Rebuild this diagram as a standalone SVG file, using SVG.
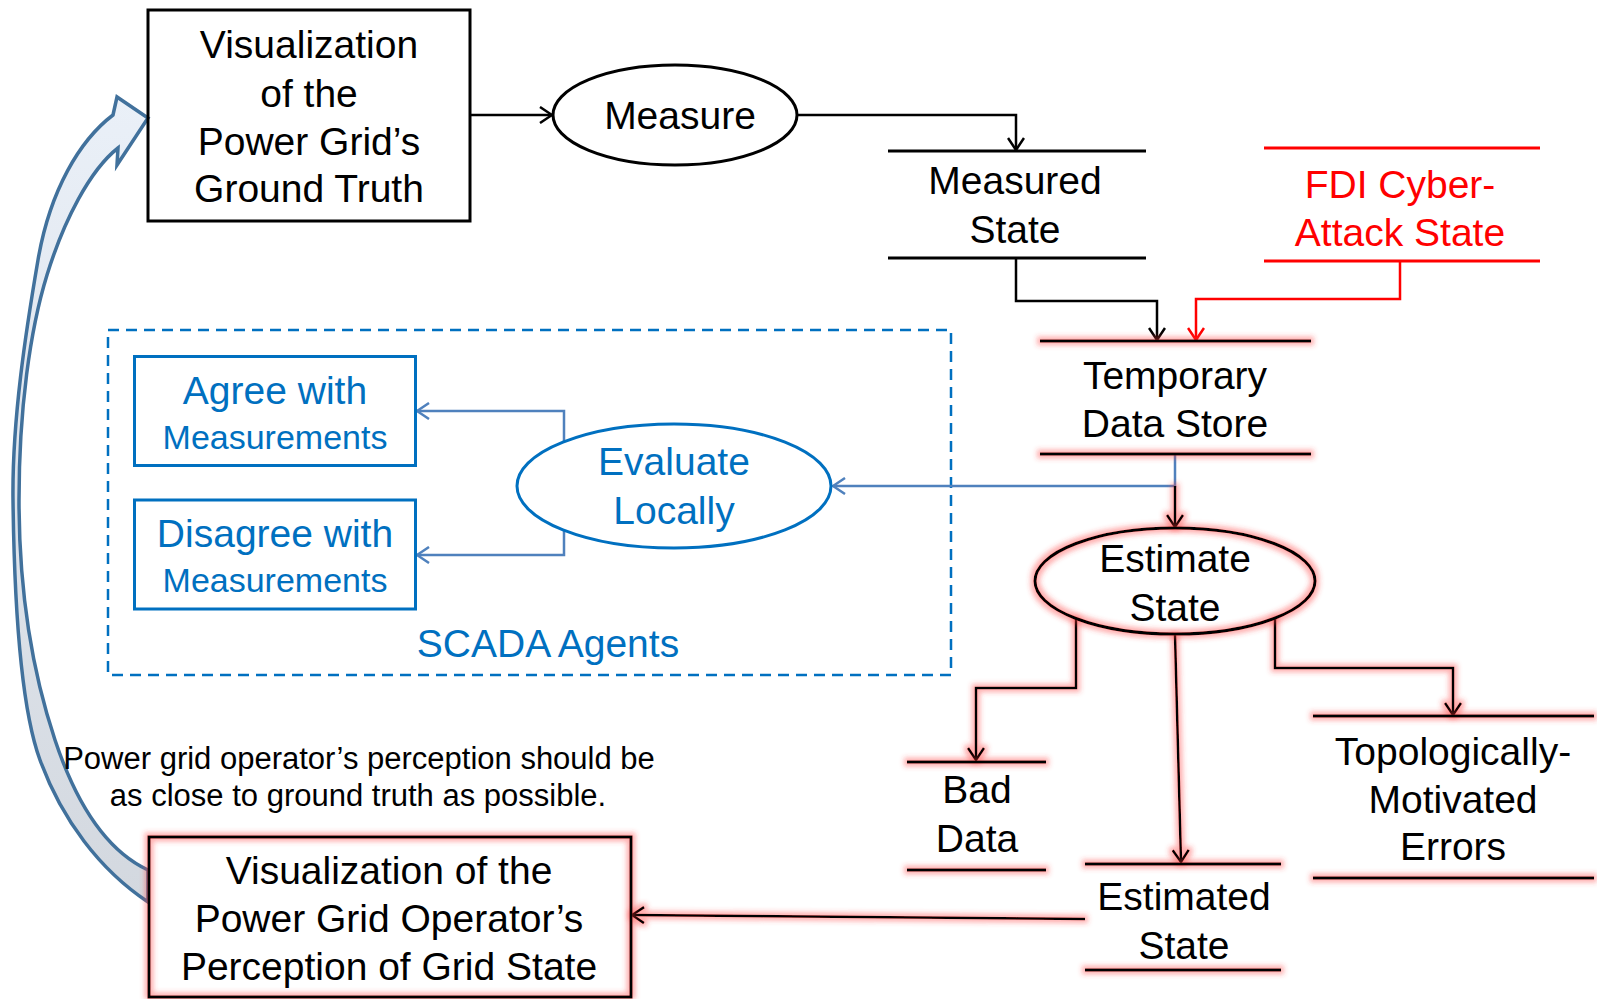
<svg xmlns="http://www.w3.org/2000/svg" width="1597" height="999" viewBox="0 0 1597 999">
  <defs>
    <style>
      text { font-family: "Liberation Sans", Arial, sans-serif; text-anchor: middle; }
      .t { font-size: 39px; fill: #000; }
      .note { font-size: 31px; fill: #000; }
      .red { font-size: 39px; fill: #ff0000; }
      .blue { font-size: 39px; fill: #0070c0; }
      .blueSm { font-size: 34px; fill: #0070c0; }
      .box { fill: none; stroke: #000; stroke-width: 3; }
      .store { stroke: #000; stroke-width: 3; fill: none; }
      .storeR { stroke: #ff0000; stroke-width: 3; fill: none; }
      .conn { fill: none; stroke: #000; stroke-width: 2.5; marker-end: url(#ahK); }
      .connR { fill: none; stroke: #ff0000; stroke-width: 2.5; marker-end: url(#ahR); }
      .connB { fill: none; stroke: #4f81bd; stroke-width: 2.5; marker-end: url(#ahB); }
      .glow { filter: url(#redGlow); }
    </style>
    <marker id="ahK" viewBox="0 0 14 18" refX="13" refY="9" markerWidth="14" markerHeight="18" markerUnits="userSpaceOnUse" orient="auto">
      <path d="M1,1 L13,9 L1,17" fill="none" stroke="#000" stroke-width="2.5"/>
    </marker>
    <marker id="ahR" viewBox="0 0 14 18" refX="13" refY="9" markerWidth="14" markerHeight="18" markerUnits="userSpaceOnUse" orient="auto">
      <path d="M1,1 L13,9 L1,17" fill="none" stroke="#ff0000" stroke-width="2.5"/>
    </marker>
    <marker id="ahB" viewBox="0 0 14 18" refX="13" refY="9" markerWidth="14" markerHeight="18" markerUnits="userSpaceOnUse" orient="auto">
      <path d="M1,1 L13,9 L1,17" fill="none" stroke="#4f81bd" stroke-width="2.5"/>
    </marker>
    <filter id="redGlow" filterUnits="userSpaceOnUse" x="0" y="0" width="1597" height="999">
      <feMorphology in="SourceAlpha" operator="dilate" radius="2.5" result="thick"/>
      <feGaussianBlur in="thick" stdDeviation="2.8" result="soft"/>
      <feFlood flood-color="#ff3b3b" flood-opacity="0.4"/>
      <feComposite in2="soft" operator="in" result="halo"/>
      <feMerge>
        <feMergeNode in="halo"/>
        <feMergeNode in="SourceGraphic"/>
      </feMerge>
    </filter>
    <linearGradient id="bandFill" x1="0" y1="0" x2="0" y2="1">
      <stop offset="0" stop-color="#eaf0f8"/>
      <stop offset="1" stop-color="#d3d8df"/>
    </linearGradient>
  </defs>

  <rect width="1597" height="999" fill="#fff"/>

  <!-- feedback arrow: operator's view back to ground truth -->
  <g id="feedback-arrow">
    <path d="M113,115 C80,140 50,190 38,260 C26,330 12,420 13,500 C14,580 18,700 40,760 C62,820 100,870 148,902 L148,870 C105,850 75,800 55,740 C35,680 19,600 19,500 C19,410 30,330 47,275 C64,220 90,170 118,148 L117,165 L148,118 L117,97 Z" fill="url(#bandFill)" stroke="#41719c" stroke-width="3.5" stroke-linejoin="miter"/>
  </g>

  <!-- SCADA agents container -->
  <g id="scada-agents">
    <rect x="108" y="330" width="843" height="345" fill="none" stroke="#0070c0" stroke-width="2.5" stroke-dasharray="11 7"/>
    <text class="blue" x="548" y="657">SCADA Agents</text>
  </g>

  <!-- connectors -->
  <g id="connectors">
    <path class="conn" d="M470,115 H552"/>
    <path class="conn" d="M797,115 H1016 V150"/>
    <path class="conn" d="M1016,259 V301 H1157 V340"/>
    <path class="connR" d="M1400,262 V299 H1196 V340"/>
    <path class="connB" d="M1175,455 V486 H833"/>
    <path class="connB" d="M564,442 V411 H417"/>
    <path class="connB" d="M564,530 V555 H417"/>
    <g class="glow">
      <path class="conn" d="M1175,486 V527"/>
      <path class="conn" d="M1076,619 V688 H976 V760"/>
      <path class="conn" d="M1175,635 L1181,862"/>
      <path class="conn" d="M1275,619 V668 H1453 V715"/>
      <path class="conn" d="M1085,919 L632,915"/>
    </g>
  </g>

  <g id="ground-truth">
    <rect class="box" x="148" y="10" width="322" height="211" fill="#fff"/>
    <text class="t" x="309" y="58">Visualization</text>
    <text class="t" x="309" y="107">of the</text>
    <text class="t" x="309" y="155">Power Grid’s</text>
    <text class="t" x="309" y="202">Ground Truth</text>
  </g>

  <g id="measure">
    <ellipse cx="675" cy="115" rx="122" ry="50" fill="#fff" stroke="#000" stroke-width="3"/>
    <text class="t" x="680" y="129">Measure</text>
  </g>

  <g id="measured-state">
    <path class="store" d="M888,151 H1146 M888,258 H1146"/>
    <text class="t" x="1015" y="194">Measured</text>
    <text class="t" x="1015" y="243">State</text>
  </g>

  <g id="fdi-attack-state">
    <path class="storeR" d="M1264,148 H1540 M1264,261 H1540"/>
    <text class="red" x="1400" y="198">FDI Cyber-</text>
    <text class="red" x="1400" y="246">Attack State</text>
  </g>

  <g id="temporary-data-store">
    <path class="store glow" d="M1040,341 H1311 M1040,454 H1311"/>
    <text class="t" x="1175" y="389">Temporary</text>
    <text class="t" x="1175" y="437">Data Store</text>
  </g>

  <g id="estimate-state">
    <ellipse class="glow" cx="1175" cy="581" rx="140" ry="53" fill="none" stroke="#000" stroke-width="3"/>
    <text class="t" x="1175" y="572">Estimate</text>
    <text class="t" x="1175" y="621">State</text>
  </g>

  <g id="bad-data">
    <path class="store glow" d="M907,762 H1046 M907,870 H1046"/>
    <text class="t" x="977" y="803">Bad</text>
    <text class="t" x="977" y="852">Data</text>
  </g>

  <g id="estimated-state">
    <path class="store glow" d="M1085,864 H1281 M1085,970 H1281"/>
    <text class="t" x="1184" y="910">Estimated</text>
    <text class="t" x="1184" y="959">State</text>
  </g>

  <g id="topological-errors">
    <path class="store glow" d="M1313,716 H1594 M1313,878 H1594"/>
    <text class="t" x="1453" y="765">Topologically-</text>
    <text class="t" x="1453" y="813">Motivated</text>
    <text class="t" x="1453" y="860">Errors</text>
  </g>

  <g id="operator-perception">
    <rect class="box glow" x="149" y="837" width="482" height="160"/>
    <text class="t" x="389" y="884">Visualization of the</text>
    <text class="t" x="389" y="932">Power Grid Operator’s</text>
    <text class="t" x="389" y="980">Perception of Grid State</text>
  </g>

  <g id="note">
    <text class="note" x="359" y="769">Power grid operator’s perception should be</text>
    <text class="note" x="358" y="806">as close to ground truth as possible.</text>
  </g>

  <g id="agree">
    <rect x="134.5" y="356.5" width="281" height="109" fill="#fff" stroke="#0070c0" stroke-width="3"/>
    <text class="blue" x="275" y="404">Agree with</text>
    <text class="blueSm" x="275" y="449">Measurements</text>
  </g>

  <g id="disagree">
    <rect x="134.5" y="500" width="281" height="109" fill="#fff" stroke="#0070c0" stroke-width="3"/>
    <text class="blue" x="275" y="547">Disagree with</text>
    <text class="blueSm" x="275" y="592">Measurements</text>
  </g>

  <g id="evaluate-locally">
    <ellipse cx="674" cy="486" rx="157" ry="62" fill="#fff" stroke="#0070c0" stroke-width="3"/>
    <text class="blue" x="674" y="475">Evaluate</text>
    <text class="blue" x="674" y="524">Locally</text>
  </g>
</svg>
